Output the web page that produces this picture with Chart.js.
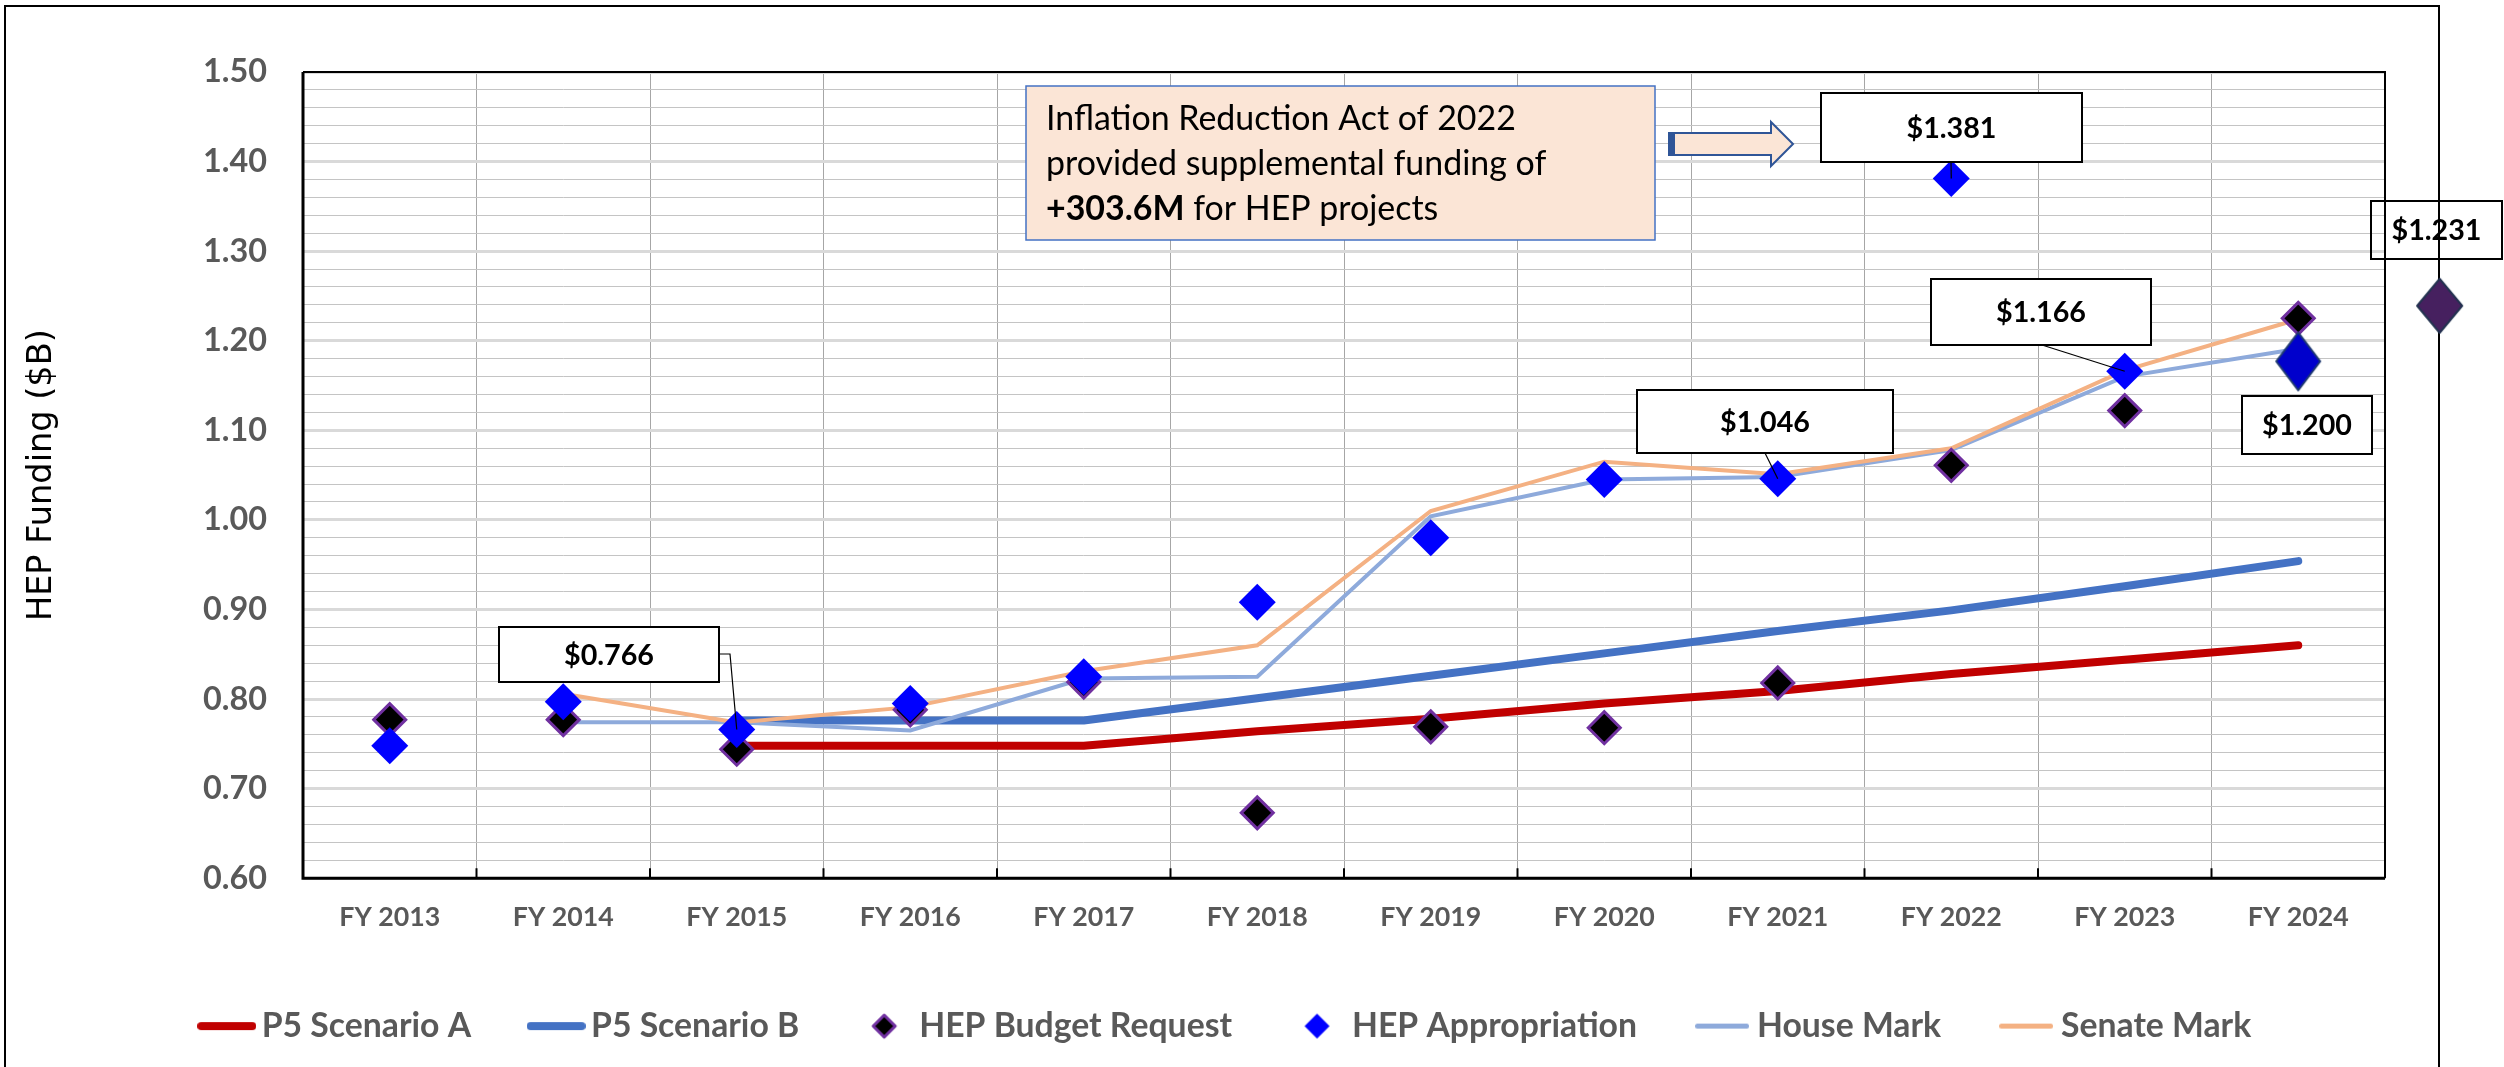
<!DOCTYPE html>
<html>
<head>
<meta charset="utf-8">
<script src="https://cdn.jsdelivr.net/npm/chart.js@4.4.1/dist/chart.umd.min.js"></script>
<style>
  html, body { margin: 0; padding: 0; background: #ffffff; overflow: hidden; }
  #c { display: block; }
</style>
</head>
<body>
<canvas id="c" width="2504" height="1067"></canvas>
<script>
// ---------------- DATA ----------------
const categories = ['FY 2013','FY 2014','FY 2015','FY 2016','FY 2017','FY 2018','FY 2019','FY 2020','FY 2021','FY 2022','FY 2023','FY 2024'];
const p5ScenarioA   = [null, null, 0.748, 0.748, 0.748, 0.764, 0.778, 0.795, 0.809, 0.828, 0.844, 0.860];
const p5ScenarioB   = [null, null, 0.776, 0.776, 0.776, 0.801, 0.826, 0.851, 0.876, 0.899, 0.926, 0.954];
const budgetRequest = [0.777, 0.777, 0.744, 0.788, 0.819, 0.673, 0.769, 0.768, 0.818, 1.061, 1.122, 1.225];
const appropriation = [0.748, 0.797, 0.766, 0.795, 0.825, 0.908, 0.980, 1.045, 1.046, 1.381, 1.166, null];
const houseMark     = [null, 0.774, 0.774, 0.765, 0.823, 0.825, 1.004, 1.045, 1.048, 1.078, 1.160, 1.191];
const senateMark    = [null, 0.806, 0.774, 0.791, 0.831, 0.860, 1.010, 1.065, 1.051, 1.080, 1.167, 1.224];
const fy2024Appropriation = [null, null, null, null, null, null, null, null, null, null, null, 1.177];
const fy2025Request = 1.239;
const yMin = 0.60, yMax = 1.50, yMajorStep = 0.10, yMinorStep = 0.02;
const seriesNames = ['P5 Scenario A','P5 Scenario B','HEP Budget Request','HEP Appropriation','House Mark','Senate Mark'];
const calloutLabels = ['$0.766','$1.046','$1.381','$1.166','$1.200','$1.231'];
const noteLines = ['Inflation Reduction Act of 2022', 'provided supplemental funding of'];
const noteBold = '+303.6M';
const noteTail = ' for HEP projects';
const yAxisTitle = 'HEP Funding ($B)';

// ---------------- LAYOUT / STYLE ----------------
const FY2025_AXIS_POS = 11.815;          // where the FY2025 marker sits on the hidden linear x axis
const outerFrame = { left: 5, top: 6, right: 2439 };
const callouts = [
  { box: [499, 627, 220, 55],  target: { data: appropriation, index: 2 },  leader: [[719, 654], [730, 654]] },
  { box: [1637, 390, 256, 63], target: { data: appropriation, index: 8 },  leader: [[1765, 453]] },
  { box: [1821, 93, 261, 69],  target: { data: appropriation, index: 9 },  leader: [[1951, 162]] },
  { box: [1931, 279, 220, 66], target: { data: appropriation, index: 10 }, leader: [[2042, 345]] },
  { box: [2242, 396, 130, 58] },
  { box: [2371, 201, 131, 58], noFill: true }
];
const noteBox = { x: 1026, y: 86, w: 629, h: 154, textX: 1046, baselines: [130, 175, 220] };
const arrow = { x0: 1669, x1: 1771, tip: 1793, yTop: 133, yBot: 155, headTop: 122, headBot: 166 };

function fitSize(text, width, weight, family) {
  const g = document.createElement('canvas').getContext('2d');
  g.font = weight + ' 100px ' + family;
  return 100 * width / g.measureText(text).width;
}
const xTickSize   = fitSize('FY 2013', 101, 'bold', 'Lato');
const yTickSize   = fitSize('1.50', 64, 'bold', 'Lato');
const legendSize  = fitSize('HEP Budget Request', 313, 'bold', 'Lato');
const calloutSize = fitSize('$1.381', 90, 'bold', 'Lato');
const noteSize    = fitSize(noteLines[0], 470, 'normal', 'Lato');
const titleSize   = fitSize(yAxisTitle, 292, 'normal', 'DejaVu Sans');

function makeDiamond(w, h, fill, stroke, lw) {
  const c = document.createElement('canvas');
  c.width = Math.ceil(w + lw * 2 + 2); c.height = Math.ceil(h + lw * 2 + 2);
  const g = c.getContext('2d');
  const cx = c.width / 2, cy = c.height / 2;
  g.beginPath();
  g.moveTo(cx, cy - h / 2); g.lineTo(cx + w / 2, cy); g.lineTo(cx, cy + h / 2); g.lineTo(cx - w / 2, cy);
  g.closePath();
  g.fillStyle = fill; g.fill();
  if (lw) { g.lineWidth = lw; g.strokeStyle = stroke; g.lineJoin = 'round'; g.stroke(); }
  return c;
}
function makeLine(len, lw, color) {
  const c = document.createElement('canvas');
  c.width = len; c.height = Math.ceil(lw + 4);
  const g = c.getContext('2d');
  g.strokeStyle = color; g.lineWidth = lw; g.lineCap = 'round';
  g.beginPath(); g.moveTo(lw / 2, c.height / 2); g.lineTo(len - lw / 2, c.height / 2); g.stroke();
  return c;
}

const colors = {
  p5a: '#c00000', p5b: '#4472c4', brFill: '#000000', brBorder: '#7030a0',
  app: '#0000ff', house: '#8eaadb', senate: '#f4b183',
  big2024: '#0000cc', big2024Border: '#1f3a70', fy25: '#46205f', fy25Border: '#22314f'
};
const legendMarkers = [
  makeLine(59, 8, colors.p5a),
  makeLine(59, 8, colors.p5b),
  makeDiamond(22, 22, colors.brFill, colors.brBorder, 3),
  makeDiamond(25, 25, colors.app, colors.app, 0),
  makeLine(54, 5, colors.house),
  makeLine(54, 5, colors.senate)
];
const big2024Marker = makeDiamond(44, 58, colors.big2024, colors.big2024Border, 2);
const fy25Marker = makeDiamond(45, 54, colors.fy25, colors.fy25Border, 2);

const isMajor = v => Math.abs(Math.round(v * 100) % 10) === 0;

// ---------------- DECORATION PLUGIN ----------------
const decor = {
  id: 'decor',
  beforeDraw(chart) {
    const ctx = chart.ctx;
    ctx.save(); ctx.fillStyle = '#ffffff'; ctx.fillRect(0, 0, chart.width, chart.height); ctx.restore();
  },
  beforeDatasetsDraw(chart) {
    const { ctx, chartArea: a } = chart;
    ctx.save();
    ctx.strokeStyle = '#000000';
    ctx.lineWidth = 2;
    ctx.beginPath();
    ctx.moveTo(outerFrame.left, chart.height + 10);
    ctx.lineTo(outerFrame.left, outerFrame.top);
    ctx.lineTo(outerFrame.right, outerFrame.top);
    ctx.lineTo(outerFrame.right, chart.height + 10);
    ctx.stroke();
    ctx.lineWidth = 2;
    ctx.beginPath(); ctx.moveTo(a.left, a.top); ctx.lineTo(a.right, a.top); ctx.lineTo(a.right, a.bottom); ctx.stroke();
    ctx.lineWidth = 3;
    ctx.beginPath(); ctx.moveTo(a.left, a.top); ctx.lineTo(a.left, a.bottom); ctx.lineTo(a.right, a.bottom); ctx.stroke();
    const n = categories.length;
    ctx.lineWidth = 2;
    for (let i = 1; i < n; i++) {
      const x = a.left + (a.right - a.left) * i / n;
      ctx.beginPath(); ctx.moveTo(x, a.bottom); ctx.lineTo(x, a.bottom - 10); ctx.stroke();
    }
    ctx.restore();
  },
  afterDraw(chart) {
    const ctx = chart.ctx;
    const xs = chart.scales.x, ys = chart.scales.y;
    ctx.save();
    // note box
    ctx.fillStyle = '#fbe5d6';
    ctx.fillRect(noteBox.x, noteBox.y, noteBox.w, noteBox.h);
    ctx.strokeStyle = '#4472c4'; ctx.lineWidth = 1.5;
    ctx.strokeRect(noteBox.x, noteBox.y, noteBox.w, noteBox.h);
    ctx.fillStyle = '#000000'; ctx.textBaseline = 'alphabetic'; ctx.textAlign = 'left';
    ctx.font = 'normal ' + noteSize + 'px Lato';
    ctx.fillText(noteLines[0], noteBox.textX, noteBox.baselines[0]);
    ctx.fillText(noteLines[1], noteBox.textX, noteBox.baselines[1]);
    ctx.font = 'bold ' + noteSize + 'px Lato';
    ctx.fillText(noteBold, noteBox.textX, noteBox.baselines[2]);
    const bw = ctx.measureText(noteBold).width;
    ctx.font = 'normal ' + noteSize + 'px Lato';
    ctx.fillText(noteTail, noteBox.textX + bw, noteBox.baselines[2]);
    // arrow
    ctx.beginPath();
    ctx.moveTo(arrow.x0, arrow.yTop); ctx.lineTo(arrow.x1, arrow.yTop); ctx.lineTo(arrow.x1, arrow.headTop);
    ctx.lineTo(arrow.tip, (arrow.yTop + arrow.yBot) / 2);
    ctx.lineTo(arrow.x1, arrow.headBot); ctx.lineTo(arrow.x1, arrow.yBot); ctx.lineTo(arrow.x0, arrow.yBot);
    ctx.closePath();
    ctx.fillStyle = '#fbe5d6'; ctx.fill();
    ctx.strokeStyle = '#2f5597'; ctx.lineWidth = 2; ctx.lineJoin = 'miter'; ctx.stroke();
    ctx.fillStyle = '#2f5597'; ctx.fillRect(arrow.x0 - 1, arrow.yTop, 7, arrow.yBot - arrow.yTop);
    // callouts
    callouts.forEach((c, i) => {
      const [bx, by, bw2, bh] = c.box;
      if (c.target) {
        const px = xs.getPixelForValue(c.target.index);
        const py = ys.getPixelForValue(c.target.data[c.target.index]);
        ctx.beginPath();
        ctx.strokeStyle = '#000000'; ctx.lineWidth = 1.2;
        ctx.moveTo(c.leader[0][0], c.leader[0][1]);
        for (let k = 1; k < c.leader.length; k++) ctx.lineTo(c.leader[k][0], c.leader[k][1]);
        ctx.lineTo(px, py);
        ctx.stroke();
      }
      if (!c.noFill) { ctx.fillStyle = '#ffffff'; ctx.fillRect(bx, by, bw2, bh); }
      ctx.strokeStyle = '#000000'; ctx.lineWidth = 2;
      ctx.strokeRect(bx, by, bw2, bh);
      ctx.fillStyle = '#000000';
      ctx.font = 'bold ' + calloutSize + 'px Lato';
      ctx.textAlign = 'center'; ctx.textBaseline = 'middle';
      ctx.fillText(calloutLabels[i], bx + bw2 / 2, by + bh / 2 + 1);
    });
    ctx.restore();
  }
};

// ---------------- CHART ----------------
const xTickFont = { family: 'Lato', weight: 'bold', size: xTickSize };
const yTickFont = { family: 'Lato', weight: 'bold', size: yTickSize };
new Chart(document.getElementById('c'), {
  type: 'line',
  data: {
    labels: categories,
    datasets: [
      { label: seriesNames[0], data: p5ScenarioA, borderColor: colors.p5a, backgroundColor: colors.p5a, borderWidth: 8,
        pointRadius: 0, borderCapStyle: 'round', borderJoinStyle: 'round', tension: 0, order: 5 },
      { label: seriesNames[1], data: p5ScenarioB, borderColor: colors.p5b, backgroundColor: colors.p5b, borderWidth: 8,
        pointRadius: 0, borderCapStyle: 'round', borderJoinStyle: 'round', tension: 0, order: 4 },
      { label: seriesNames[2], data: budgetRequest, showLine: false, pointStyle: 'rectRot', pointRadius: 16,
        pointBackgroundColor: colors.brFill, pointBorderColor: colors.brBorder, pointBorderWidth: 3, order: 1 },
      { label: seriesNames[3], data: appropriation, showLine: false, pointStyle: 'rectRot', pointRadius: 18.5,
        pointBackgroundColor: colors.app, pointBorderColor: colors.app, pointBorderWidth: 0, order: 0 },
      { label: seriesNames[4], data: houseMark, borderColor: colors.house, backgroundColor: colors.house, borderWidth: 4,
        pointRadius: 0, tension: 0, order: 3 },
      { label: seriesNames[5], data: senateMark, borderColor: colors.senate, backgroundColor: colors.senate, borderWidth: 4,
        pointRadius: 0, tension: 0, order: 2 },
      { label: 'FY 2024 Appropriation', data: fy2024Appropriation, showLine: false, pointStyle: big2024Marker,
        pointRadius: 26, order: -1 },
      { type: 'bubble', label: 'FY 2025 Request', data: [{ x: FY2025_AXIS_POS, y: fy2025Request }], xAxisID: 'x2', yAxisID: 'y',
        pointStyle: fy25Marker, radius: 70, borderWidth: 0, clip: false, order: -2 }
    ]
  },
  options: {
    responsive: false,
    animation: false,
    events: [],
    layout: { padding: { top: 72, right: 44, bottom: 14, left: 0 } },
    scales: {
      x: {
        type: 'category', offset: true,
        grid: { offset: true, color: '#a6a6a6', lineWidth: 1, drawTicks: false },
        border: { display: false },
        ticks: { font: xTickFont, color: '#595959', padding: 23, autoSkip: false, maxRotation: 0 },
        afterFit(s) { s.height = 64; }
      },
      x2: { type: 'linear', display: false, min: -0.5, max: categories.length - 0.5 },
      y: {
        type: 'linear', min: yMin, max: yMax,
        grid: {
          drawTicks: false,
          color: c => (c.tick && isMajor(c.tick.value)) ? '#d9d9d9' : '#c4c4c4',
          lineWidth: c => (c.tick && isMajor(c.tick.value)) ? 3 : 1
        },
        border: { display: false },
        ticks: {
          stepSize: yMinorStep, autoSkip: false, padding: 36, font: yTickFont, color: '#595959',
          callback: v => isMajor(v) ? v.toFixed(2) : ''
        },
        title: { display: true, text: yAxisTitle, color: '#000000',
                 font: { family: 'DejaVu Sans', size: titleSize, weight: 'normal' }, padding: { top: 22, bottom: 0 } },
        afterFit(s) { s.width = 303; }
      },
      yR: {
        type: 'linear', position: 'right', display: true,
        grid: { display: false, drawTicks: false }, border: { display: false }, ticks: { display: false },
        afterFit(s) { s.width = 75; }
      }
    },
    plugins: {
      tooltip: { enabled: false },
      legend: {
        position: 'bottom',
        labels: {
          usePointStyle: true, pointStyleWidth: 36, padding: 67,
          font: { family: 'Lato', weight: 'bold', size: legendSize }, color: '#595959',
          generateLabels: chart => legendMarkers.map((m, i) => ({
            text: chart.data.datasets[i].label, pointStyle: m, fillStyle: 'rgba(0,0,0,0)',
            strokeStyle: 'rgba(0,0,0,0)', lineWidth: 0, hidden: false, datasetIndex: i, fontColor: '#595959'
          }))
        }
      }
    }
  },
  plugins: [decor]
});
</script>
</body>
</html>
